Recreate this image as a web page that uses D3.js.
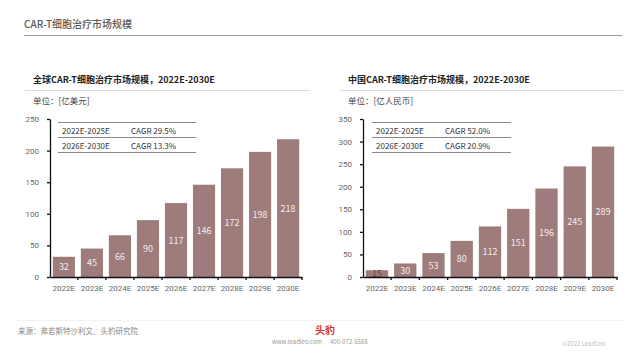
<!DOCTYPE html>
<html><head><meta charset="utf-8">
<script src="https://cdn.jsdelivr.net/npm/d3@7"></script>
<style>
body{margin:0;background:#fff;}
svg{display:block;font-family:"Noto Sans CJK SC","Noto Sans",sans-serif;}
</style></head>
<body>
<svg id="c" width="640" height="351"></svg>
<script>
const categories = ["2022E","2023E","2024E","2025E","2026E","2027E","2028E","2029E","2030E"];
const globalValues = [32,45,66,90,117,146,172,198,218];
const chinaValues = [15,30,53,80,112,151,196,245,289];
const globalTicks = [0,50,100,150,200,250];
const chinaTicks = [0,50,100,150,200,250,300,350];
const globalCagr = [["2022E-2025E","CAGR 29.5%"],["2026E-2030E","CAGR 13.3%"]];
const chinaCagr = [["2022E-2025E","CAGR 52.0%"],["2026E-2030E","CAGR 20.9%"]];

const svg = d3.select("#c");
const barColor = "#9f7c7c";

// page header
svg.append("text").attr("x",24).attr("y",28).attr("font-size",10).attr("fill","#5a5a5a")
  .attr("font-weight","500").text("CAR-T细胞治疗市场规模");
svg.append("line").attr("x1",24).attr("x2",622).attr("y1",35.5).attr("y2",35.5)
  .attr("stroke","#999").attr("stroke-width",1.2);

function chart(cfg){
  const g = svg.append("g");
  g.append("text").attr("x",cfg.tx).attr("y",83).attr("font-size",9).attr("font-weight","bold")
    .attr("fill","#222").text(cfg.title);
  g.append("line").attr("x1",cfg.tx-8).attr("x2",cfg.sx2).attr("y1",90.5).attr("y2",90.5)
    .attr("stroke","#ddd").attr("stroke-width",1);
  g.append("text").attr("x",cfg.tx).attr("y",104).attr("font-size",8.5).attr("fill","#444").text(cfg.unit);

  const x = d3.scaleBand().domain(categories).range([cfg.x0,cfg.x1]).paddingInner(0.21).paddingOuter(0.1);
  const y = d3.scaleLinear().domain([0,cfg.max]).range([277,119]);

  g.selectAll("rect.bar").data(cfg.values).enter().append("rect")
    .attr("x",(d,i)=>x(categories[i])).attr("width",x.bandwidth())
    .attr("y",d=>y(d)).attr("height",d=>y(0)-y(d)).attr("fill",barColor);
  g.selectAll("text.val").data(cfg.values).enter().append("text")
    .attr("x",(d,i)=>x(categories[i])+x.bandwidth()/2)
    .attr("y",d=>(y(d)+y(0))/2+3.5).attr("text-anchor","middle")
    .attr("font-size",9).attr("fill",d=> (y(0)-y(d))<10 ? "#5a4444" : "#f4ecec").text(d=>d);

  const ya = g.append("g").attr("transform",`translate(${cfg.x0},0)`)
    .call(d3.axisLeft(y).tickValues(cfg.ticks).tickSize(3).tickSizeOuter(0).tickPadding(8));
  ya.select(".domain").attr("stroke","#111").attr("stroke-width",1.3);
  ya.selectAll(".tick line").attr("stroke","#111").attr("stroke-width",1.3);
  ya.selectAll("text").attr("font-size",8).attr("fill","#666").attr("font-family","Roboto,'Noto Sans',sans-serif");

  const xa = g.append("g").attr("transform","translate(0,277)")
    .call(d3.axisBottom(x).tickSize(0).tickPadding(8));
  xa.select(".domain").attr("stroke","#111").attr("stroke-width",1.5);
  xa.selectAll("text").attr("font-size",8).attr("fill","#666").attr("font-family","Roboto,'Noto Sans',sans-serif");
  const bounds = categories.map(c=>x(c)-x.step()*x.paddingInner()/2).slice(1).concat([cfg.x1]);
  g.selectAll("line.bt").data(bounds).enter().append("line")
    .attr("x1",d=>d).attr("x2",d=>d).attr("y1",277).attr("y2",280)
    .attr("stroke","#111").attr("stroke-width",1.3);

  const t0 = cfg.tbx, t1 = cfg.tbx2;
  [122.5,137.5,152.5].forEach(yy=>{
    g.append("line").attr("x1",t0).attr("x2",t1).attr("y1",yy).attr("y2",yy)
      .attr("stroke","#888").attr("stroke-width",1);
  });
  cfg.cagr.forEach((r,i)=>{
    g.append("text").attr("x",t0+4).attr("y",133.5+15*i).attr("font-size",8).attr("fill","#333").text(r[0]);
    g.append("text").attr("x",t0+73).attr("y",133.5+15*i).attr("font-size",8).attr("fill","#333").text(r[1]);
  });
}

chart({title:"全球CAR-T细胞治疗市场规模，2022E-2030E",unit:"单位：[亿美元]",tx:33,sx2:310,
  x0:50,x1:302,max:250,values:globalValues,ticks:globalTicks,cagr:globalCagr,tbx:58,tbx2:196});
chart({title:"中国CAR-T细胞治疗市场规模，2022E-2030E",unit:"单位：[亿人民币]",tx:348,sx2:623,
  x0:363,x1:617,max:350,values:chinaValues,ticks:chinaTicks,cagr:chinaCagr,tbx:372,tbx2:511});

// footer
svg.append("line").attr("x1",14).attr("x2",626).attr("y1",320.5).attr("y2",320.5).attr("stroke","#f2f2f2");
svg.append("text").attr("x",18).attr("y",334).attr("font-size",7.5).attr("fill","#888").text("来源：弗若斯特沙利文、头豹研究院");
svg.append("text").attr("x",315).attr("y",334).attr("font-size",10).attr("font-weight","bold").attr("fill","#d8332b").text("头豹");
svg.append("text").attr("x",272).attr("y",344).attr("font-size",6).attr("fill","#999").text("www.leadleo.com");
svg.append("text").attr("x",330).attr("y",344).attr("font-size",6).attr("fill","#999").text("400-072-5588");
svg.append("text").attr("x",562).attr("y",346).attr("font-size",6).attr("fill","#bbb").text("©2022 LeadLeo");
</script>
</body></html>
